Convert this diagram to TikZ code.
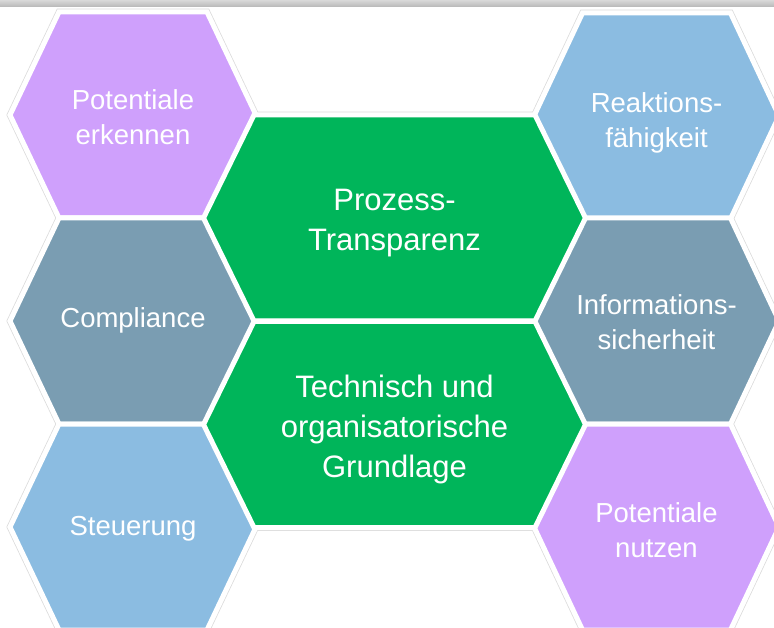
\documentclass[tikz,border=0pt]{standalone}
\usepackage{fontspec}
\setmainfont{Liberation Sans}
\definecolor{hpurple}{HTML}{CFA0FC}
\definecolor{hblue}{HTML}{8BBCE1}
\definecolor{hslate}{HTML}{7A9DB2}
\definecolor{hgreen}{HTML}{00B55A}
\newcommand\hexpath[4]{(#1-#3,#2) -- (#1-#4,#2-103) -- (#1+#4,#2-103) -- (#1+#3,#2) -- (#1+#4,#2+103) -- (#1-#4,#2+103) -- cycle}
\tikzset{
  hexshadow/.style={draw=black!14, line width=6.5pt, line join=miter},
  hexface/.style={draw=white, line width=5pt, line join=miter},
  smalltext/.style={text=white, font=\fontsize{27.5}{35}\selectfont, align=center, inner sep=0pt},
  bigtext/.style={text=white, font=\fontsize{31}{40}\selectfont, align=center, inner sep=0pt},
}
\begin{document}
\begin{tikzpicture}[x=1pt,y=-1pt]
\useasboundingbox (0,0) rectangle (774,628);
\fill[white] (0,0) rectangle (774,628);
\shade[top color=black!15, bottom color=black!28] (0,0) rectangle (774,7);
% shadows / outlines
\foreach \cx/\cy/\hw/\tw in {133/115/123/74, 133/321/123/74, 133/527/123/74,
  656.5/116/122.5/74, 656.5/321/122.5/74, 656.5/527/122.5/74,
  394.5/218/191/140.5, 394.5/424.5/191/140.5}
  \draw[hexshadow] \hexpath{\cx}{\cy}{\hw}{\tw};
% faces
\filldraw[hexface, fill=hpurple] \hexpath{133}{115}{123}{74};
\filldraw[hexface, fill=hslate]  \hexpath{133}{321}{123}{74};
\filldraw[hexface, fill=hblue]   \hexpath{133}{527}{123}{74};
\filldraw[hexface, fill=hblue]   \hexpath{656.5}{116}{122.5}{74};
\filldraw[hexface, fill=hslate]  \hexpath{656.5}{321}{122.5}{74};
\filldraw[hexface, fill=hpurple] \hexpath{656.5}{527}{122.5}{74};
\filldraw[hexface, fill=hgreen]  \hexpath{394.5}{218}{191}{140.5};
\filldraw[hexface, fill=hgreen]  \hexpath{394.5}{424.5}{191}{140.5};
% texts
\node[smalltext] (pe) at (133,117) {Potentiale\\erkennen};
\node[smalltext] (co) at (133,320) {Compliance};
\node[smalltext] (st) at (133,529) {Steuerung};
\node[smalltext] (rf) at (656.5,123) {Reaktions-\\fähigkeit};
\node[smalltext] (is) at (656.5,322) {Informations-\\sicherheit};
\node[smalltext] (pn) at (656.5,530) {Potentiale\\nutzen};
\node[bigtext] (pt) at (394.5,223) {Prozess-\\Transparenz};
\node[bigtext] (tg) at (394.5,429) {Technisch und\\organisatorische\\Grundlage};
\end{tikzpicture}
\end{document}
